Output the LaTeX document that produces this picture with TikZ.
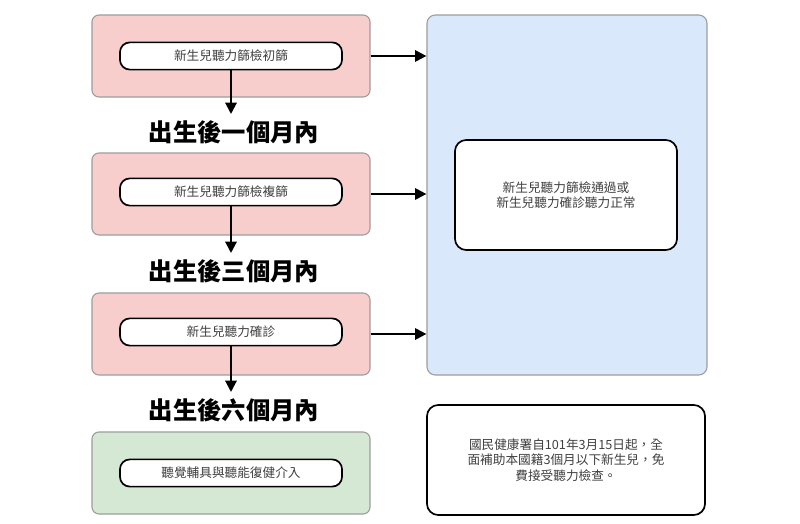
\documentclass[tikz,border=0pt]{standalone}
\usepackage{fontspec}
\setmainfont{Noto Sans CJK TC}
\usetikzlibrary{arrows.meta,positioning}
\definecolor{pinkfill}{HTML}{F8CECC}
\definecolor{greenfill}{HTML}{D5E8D4}
\definecolor{bluefill}{HTML}{DAE8FC}
\definecolor{boxline}{HTML}{9E9E9E}
\begin{document}
\begin{tikzpicture}[
    x=0.025cm, y=-0.025cm,
    stage/.style={
        rectangle, draw=boxline, line width=0.8pt, rounded corners=5pt,
        minimum width=6.95cm, minimum height=2.05cm
    },
    pill/.style={
        rectangle, draw=black, fill=white, line width=1.2pt,
        rounded corners=7pt, minimum width=5.55cm, minimum height=0.68cm,
        font=\small, text=black!75
    },
    panel/.style={
        rectangle, draw=black, fill=white, line width=1.2pt,
        rounded corners=8pt, font=\small, text=black!75, align=center
    },
    period/.style={font=\LARGE\bfseries},
    arrow/.style={-{Triangle[length=8pt,width=8pt]}, line width=1.5pt}
]
\useasboundingbox (0,0) rectangle (800,524);

% Right side
\node[rectangle, draw=boxline, line width=0.8pt, fill=bluefill, rounded corners=6pt,
      minimum width=7cm, minimum height=9cm] (result) at (567,195) {};
\node[panel, minimum width=5.55cm, minimum height=2.75cm] (normal) at (566,195)
    {新生兒聽力篩檢通過或\\新生兒聽力確診聽力正常};
\node[panel, minimum width=6.95cm, minimum height=2.75cm] (note) at (566,460)
    {國民健康署自101年3月15日起，全\\面補助本國籍3個月以下新生兒，免\\費接受聽力檢查。};

% Stages
\node[stage, fill=pinkfill] (s1) at (231,56) {};
\node[pill] (p1) at (231,56) {新生兒聽力篩檢初篩};
\node[stage, fill=pinkfill] (s2) at (231,194) {};
\node[pill] (p2) at (231,192) {新生兒聽力篩檢複篩};
\node[stage, fill=pinkfill] (s3) at (231,334) {};
\node[pill] (p3) at (231,332) {新生兒聽力確診};
\node[stage, fill=greenfill] (s4) at (231,473) {};
\node[pill] (p4) at (231,473) {聽覺輔具與聽能復健介入};

% Periods
\node[period] (t1) at (234,132) {出生後一個月內};
\node[period] (t2) at (234,271) {出生後三個月內};
\node[period] (t3) at (234,410) {出生後六個月內};

% Arrows
\draw[arrow, shorten >=1pt] (p1) -- (p1 |- t1.north);
\draw[arrow, shorten >=1pt] (p2) -- (p2 |- t2.north);
\draw[arrow, shorten >=1pt] (p3) -- (p3 |- t3.north);
\draw[arrow] (s1.east) -- (s1.east -| result.west);
\draw[arrow] (s2.east) -- (s2.east -| result.west);
\draw[arrow] (s3.east) -- (s3.east -| result.west);
\end{tikzpicture}
\end{document}
